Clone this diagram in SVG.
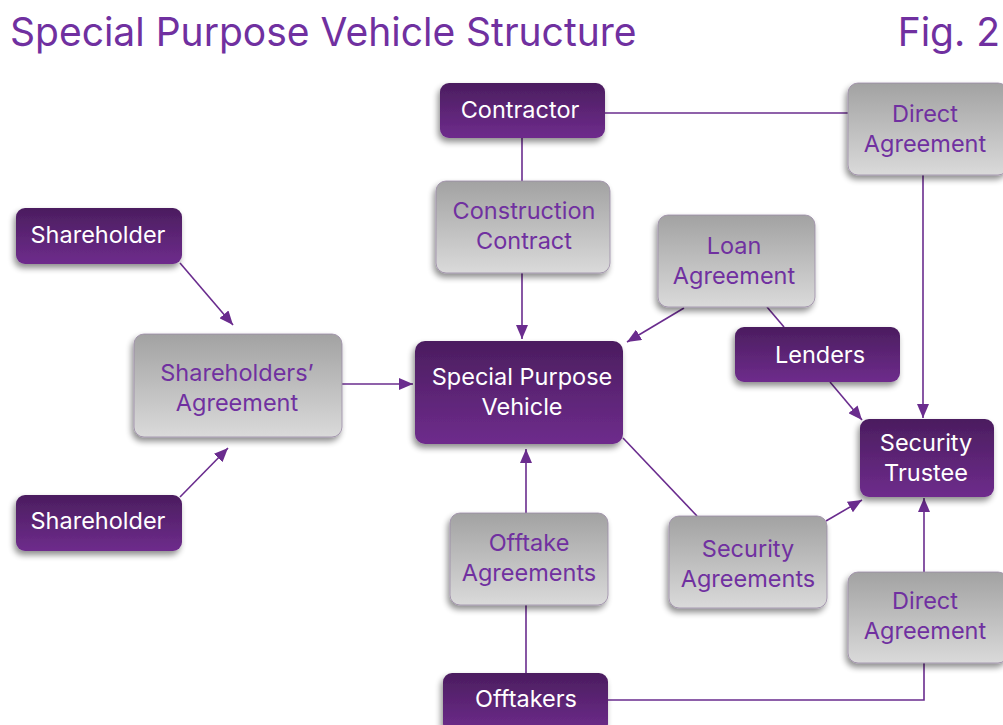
<svg xmlns="http://www.w3.org/2000/svg" width="1003" height="725" viewBox="0 0 1003 725">
<style>
.t{font-family:Inter,"Open Sans","Liberation Sans",sans-serif;font-size:23.5px;text-anchor:middle}
.w{fill:#ffffff}
.p{fill:#7030a0}
.title{font-family:Inter,"Open Sans","Liberation Sans",sans-serif;font-size:39px;fill:#7030a0}
.pn{fill:url(#gp);filter:url(#sh)}
.gn{fill:url(#gg);stroke:#9a8aa6;stroke-width:0.8;filter:url(#sh)}
.c{stroke:#6a2c8e;stroke-width:1.6;fill:none}
.a{marker-end:url(#ah)}
</style>
<defs>
<linearGradient id="gp" x1="0" y1="0" x2="0" y2="1"><stop offset="0" stop-color="#4b1d5f"/><stop offset="1" stop-color="#6e2c8c"/></linearGradient>
<linearGradient id="gg" x1="0" y1="0" x2="0" y2="1"><stop offset="0" stop-color="#a2a2a2"/><stop offset="1" stop-color="#dadada"/></linearGradient>
<filter id="sh" x="-20%" y="-20%" width="140%" height="150%"><feGaussianBlur in="SourceAlpha" stdDeviation="3"/><feOffset dx="-2" dy="4"/><feComponentTransfer><feFuncA type="linear" slope="0.45"/></feComponentTransfer><feMerge><feMergeNode/><feMergeNode in="SourceGraphic"/></feMerge></filter>
<marker id="ah" viewBox="0 0 14 12" refX="14" refY="6" markerWidth="14" markerHeight="12" markerUnits="userSpaceOnUse" orient="auto"><path d="M0,0 L14,6 L0,12 Z" fill="#6a2c8e"/></marker>
</defs>
<rect width="1003" height="725" fill="#ffffff"/>
<text class="title" x="10" y="46">Special Purpose Vehicle Structure</text>
<text class="title" x="1000" y="46" text-anchor="end">Fig. 2</text>
<g id="connectors">
<line class="c" x1="605" y1="113" x2="848" y2="113"/>
<line class="c" x1="522" y1="138" x2="522" y2="181"/>
<line class="c a" x1="522" y1="273" x2="522" y2="339"/>
<line class="c a" x1="923" y1="175" x2="923" y2="418"/>
<line class="c a" x1="684" y1="308" x2="627" y2="342"/>
<line class="c" x1="767" y1="307" x2="784" y2="327"/>
<line class="c a" x1="830" y1="382" x2="862" y2="420"/>
<line class="c a" x1="180" y1="263" x2="233" y2="325"/>
<line class="c a" x1="180" y1="497" x2="228" y2="448"/>
<line class="c a" x1="342" y1="384" x2="413" y2="384"/>
<line class="c" x1="623" y1="438" x2="697" y2="516"/>
<line class="c a" x1="826" y1="521" x2="862" y2="500"/>
<line class="c a" x1="526" y1="513" x2="526" y2="449"/>
<line class="c" x1="526" y1="673" x2="526" y2="605"/>
<polyline class="c" points="608,700 924,700 924,663"/>
<line class="c a" x1="924" y1="572" x2="924" y2="498"/>
</g>
<g id="contractor"><rect class="pn" x="440" y="83" width="165" height="55" rx="9"/><text class="t w" x="520" y="118">Contractor</text></g>
<g id="shareholder1"><rect class="pn" x="16" y="208" width="166" height="56" rx="9"/><text class="t w" x="98" y="243">Shareholder</text></g>
<g id="shareholder2"><rect class="pn" x="16" y="495" width="166" height="56" rx="9"/><text class="t w" x="98" y="529">Shareholder</text></g>
<g id="spv"><rect class="pn" x="415" y="341" width="208" height="103" rx="10"/><text class="t w" x="522" y="385">Special Purpose</text><text class="t w" x="522" y="415">Vehicle</text></g>
<g id="lenders"><rect class="pn" x="735" y="327" width="165" height="55" rx="9"/><text class="t w" x="820" y="363">Lenders</text></g>
<g id="security-trustee"><rect class="pn" x="860" y="419" width="134" height="78" rx="9"/><text class="t w" x="926" y="451">Security</text><text class="t w" x="926" y="481">Trustee</text></g>
<g id="offtakers"><rect class="pn" x="443" y="673" width="165" height="60" rx="9"/><text class="t w" x="526" y="707">Offtakers</text></g>
<g id="construction-contract"><rect class="gn" x="436" y="181" width="174" height="92" rx="10"/><text class="t p" x="524" y="219">Construction</text><text class="t p" x="524" y="249">Contract</text></g>
<g id="loan-agreement"><rect class="gn" x="658" y="215" width="157" height="92" rx="10"/><text class="t p" x="734" y="254">Loan</text><text class="t p" x="734" y="284">Agreement</text></g>
<g id="direct-agreement-1"><rect class="gn" x="848" y="83" width="160" height="92" rx="10"/><text class="t p" x="925" y="122">Direct</text><text class="t p" x="925" y="152">Agreement</text></g>
<g id="shareholders-agreement"><rect class="gn" x="134" y="334" width="208" height="103" rx="10"/><text class="t p" x="237" y="381">Shareholders’</text><text class="t p" x="237" y="411">Agreement</text></g>
<g id="offtake-agreements"><rect class="gn" x="450" y="513" width="158" height="92" rx="10"/><text class="t p" x="529" y="551">Offtake</text><text class="t p" x="529" y="581">Agreements</text></g>
<g id="security-agreements"><rect class="gn" x="669" y="516" width="158" height="92" rx="10"/><text class="t p" x="748" y="557">Security</text><text class="t p" x="748" y="587">Agreements</text></g>
<g id="direct-agreement-2"><rect class="gn" x="848" y="572" width="160" height="91" rx="10"/><text class="t p" x="925" y="609">Direct</text><text class="t p" x="925" y="639">Agreement</text></g>
</svg>
